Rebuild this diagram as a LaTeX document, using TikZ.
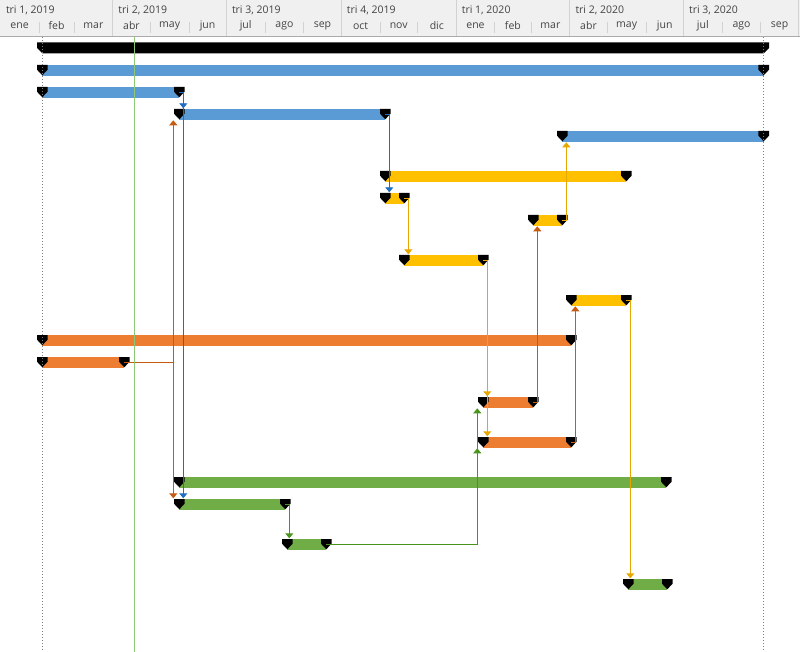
\documentclass[tikz,border=0pt]{standalone}
\usepackage{fontspec}
\setmainfont{Open Sans}
\usetikzlibrary{arrows.meta,calc}
\definecolor{HeadGray}{RGB}{240,240,240}
\definecolor{HeadLine}{RGB}{171,171,171}
\definecolor{HeadSep}{RGB}{210,210,210}
\definecolor{HeadText}{RGB}{68,68,68}
\definecolor{BarBlue}{RGB}{91,155,213}
\definecolor{BarYellow}{RGB}{255,192,0}
\definecolor{BarOrange}{RGB}{237,125,49}
\definecolor{BarGreen}{RGB}{112,173,71}
\definecolor{LinkBlue}{RGB}{31,110,193}
\definecolor{LinkYellow}{RGB}{230,168,0}
\definecolor{LinkOrange}{RGB}{197,90,17}
\definecolor{LinkGreen}{RGB}{72,148,28}
\definecolor{TodayGreen}{RGB}{140,200,120}
\newcommand{\ganttbar}[5]{%
  \fill[#5] (#2,#4-5.3) rectangle (#3,#4+5.3);
  \coordinate (#1s) at (#2,#4);
  \coordinate (#1e) at (#3,#4);
  \coordinate (#1k) at (#3+4,#4);
  \coordinate (#1p) at (#2-6,#4);
  \pic at (#1s) {barend};
  \pic at (#1e) {barend};
}

\begin{document}
\begin{tikzpicture}[x=1pt, y=-1pt,
    barend/.pic={\fill[black] (-5.3,-5.3) -- (5.3,-5.3) -- (5.3,-0.6)
                 -- (0,5) -- (-5.3,-0.6) -- cycle;},
    quarter/.style={anchor=west, inner sep=0pt, text=HeadText,
                    font=\fontsize{10.5}{12}\selectfont},
    month/.style={anchor=center, inner sep=0pt, text=HeadText,
                  font=\fontsize{10.5}{12}\selectfont},
    lk/.style={line width=0.9pt, -{Triangle[width=8pt,length=5pt]},
               shorten >=6pt}
  ]
    \useasboundingbox (0,0) rectangle (800,652);
    \fill[HeadGray] (0,0) rectangle (800,36.5);
    \draw[HeadSep, line width=0.8pt] (112.7,0) -- (112.7,36) (226.3,0) -- (226.3,36)
      (341.2,0) -- (341.2,36) (456.1,0) -- (456.1,36) (569.8,0) -- (569.8,36)
      (683.4,0) -- (683.4,36) (798.3,0) -- (798.3,36);
    \draw[HeadSep, line width=0.8pt] (39.0,22) -- (39.0,33) (74.0,22) -- (74.0,33)
      (150.2,22) -- (150.2,33) (188.9,22) -- (188.9,33) (265.0,22) -- (265.0,33)
      (303.8,22) -- (303.8,33) (379.9,22) -- (379.9,33) (417.4,22) -- (417.4,33)
      (494.8,22) -- (494.8,33) (531.0,22) -- (531.0,33) (607.2,22) -- (607.2,33)
      (645.9,22) -- (645.9,33) (722.1,22) -- (722.1,33) (760.8,22) -- (760.8,33);
    \draw[HeadLine, line width=1pt] (0,36.5) -- (800,36.5);

    \node[quarter] (q1) at (5.8,10) {tri 1, 2019};
    \node[quarter] (q2) at (118.2,10) {tri 2, 2019};
    \node[quarter] (q3) at (231.8,10) {tri 3, 2019};
    \node[quarter] (q4) at (346.7,10) {tri 4, 2019};
    \node[quarter] (q5) at (461.6,10) {tri 1, 2020};
    \node[quarter] (q6) at (575.3,10) {tri 2, 2020};
    \node[quarter] (q7) at (688.9,10) {tri 3, 2020};

    \node[month] (m1) at (19.6,26) {ene};
    \node[month] (m2) at (56.5,26) {feb};
    \node[month] (m3) at (93.4,26) {mar};
    \node[month] (m4) at (131.5,26) {abr};
    \node[month] (m5) at (169.6,26) {may};
    \node[month] (m6) at (207.6,26) {jun};
    \node[month] (m7) at (245.7,26) {jul};
    \node[month] (m8) at (284.4,26) {ago};
    \node[month] (m9) at (322.5,26) {sep};
    \node[month] (m10) at (360.6,26) {oct};
    \node[month] (m11) at (398.7,26) {nov};
    \node[month] (m12) at (436.8,26) {dic};
    \node[month] (m13) at (475.5,26) {ene};
    \node[month] (m14) at (512.9,26) {feb};
    \node[month] (m15) at (550.4,26) {mar};
    \node[month] (m16) at (588.5,26) {abr};
    \node[month] (m17) at (626.6,26) {may};
    \node[month] (m18) at (664.7,26) {jun};
    \node[month] (m19) at (702.8,26) {jul};
    \node[month] (m20) at (741.5,26) {ago};
    \node[month] (m21) at (779.6,26) {sep};

    \fill[black] (37,42.3) -- (769,42.3) -- (769,48) -- (763.7,53.3)
      -- (42.3,53.3) -- (37,48) -- cycle;
    \ganttbar{t2}{42.3}{763.7}{70.3}{BarBlue}
    \ganttbar{t3}{42.3}{179.3}{92.3}{BarBlue}
    \ganttbar{t4}{179.3}{385.3}{114.3}{BarBlue}
    \ganttbar{t5}{562.3}{763.7}{136.3}{BarBlue}
    \ganttbar{t6}{385.3}{626.3}{176.3}{BarYellow}
    \ganttbar{t7}{385.3}{404.3}{198.3}{BarYellow}
    \ganttbar{t8}{533.3}{562.3}{220.3}{BarYellow}
    \ganttbar{t9}{404.3}{483.3}{260.3}{BarYellow}
    \ganttbar{t10}{571.3}{626.3}{300.3}{BarYellow}
    \ganttbar{t11}{42.3}{571.3}{340.3}{BarOrange}
    \ganttbar{t12}{42.3}{124.3}{362.3}{BarOrange}
    \ganttbar{t13}{483.3}{533.3}{402.3}{BarOrange}
    \ganttbar{t14}{483.3}{571.3}{442.3}{BarOrange}
    \ganttbar{t15}{179.3}{666.3}{482.3}{BarGreen}
    \ganttbar{t16}{179.3}{285.3}{504.3}{BarGreen}
    \ganttbar{t17}{287.3}{326.3}{544.3}{BarGreen}
    \ganttbar{t18}{628.3}{667.3}{584.3}{BarGreen}

    \draw[lk, LinkBlue] (t3e) -- (t3k) -- (t3k |- t4s);
    \draw[lk, LinkBlue] (t3k) -- (t3k |- t16s);
    \draw[lk, LinkOrange] (t12e) -- (t4p |- t12e) -- (t4p);
    \draw[lk, LinkOrange] (t4p |- t12e) -- (t16p);
    \draw[lk, LinkBlue] (t4e) -- (t4k) -- (t4k |- t7s);
    \draw[lk, LinkYellow] (t7e) -- (t7k) -- (t7k |- t9s);
    \draw[lk, LinkYellow] (t9e) -- (t9k) -- (t9k |- t13s);
    \draw[lk, LinkYellow] (t9k) -- (t9k |- t14s);
    \draw[lk, LinkOrange] (t13e) -- (t13k) -- (t13k |- t8s);
    \draw[lk, LinkYellow] (t8e) -- (t8k) -- (t8k |- t5s);
    \draw[lk, LinkOrange] (t14e) -- (t14k) -- (t14k |- t10s);
    \draw[lk, LinkYellow] (t10e) -- (t10k) -- (t10k |- t18s);
    \draw[lk, LinkGreen] (t16e) -- (t16k) -- (t16k |- t17s);
    \draw[lk, LinkGreen] (t17e) -- (t14p |- t17e) -- (t14p);
    \draw[lk, LinkGreen] (t14p |- t17e) -- (t13p);

    \draw[gray, line width=1pt, dash pattern=on 1pt off 2pt] (42.3,37) -- (42.3,652)
      (763.7,37) -- (763.7,652);
    \draw[TodayGreen, line width=1pt] (134.3,37) -- (134.3,652);
  \end{tikzpicture}
\end{document}
